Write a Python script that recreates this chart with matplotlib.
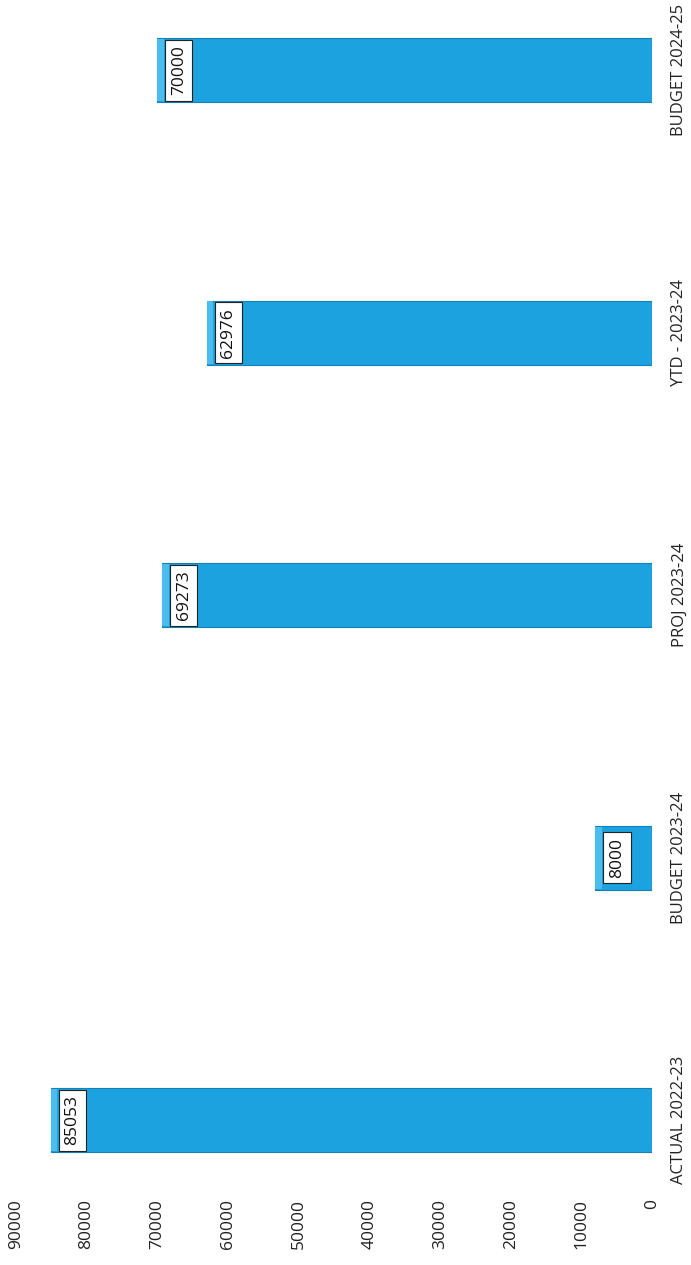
import numpy as np
import matplotlib
matplotlib.use('Agg')
import matplotlib.pyplot as plt

categories = ['ACTUAL 2022-23', 'BUDGET 2023-24', 'PROJ 2023-24', 'YTD - 2023-24', 'BUDGET 2024-25']
values = [85053, 8000, 69273, 62976, 70000]
value_ticks = [0, 10000, 20000, 30000, 40000, 50000, 60000, 70000, 80000, 90000]

bar_color = '#1ca2de'
cap_color = '#4bbcee'
font = ['Open Sans', 'DejaVu Sans']
plt.rcParams['font.family'] = font

fig = plt.figure(figsize=(6.91, 12.65), dpi=100)
ax = fig.add_axes([0.023, 0.059, 0.9206, 0.937])

pos = np.arange(len(categories))
bar_h = 0.245
ax.barh(pos, values, height=bar_h, color=bar_color, edgecolor='#1580b5', linewidth=0.8, zorder=2)

# lighter strip on the value end of each bar
cap = 900
ax.barh(pos, [cap] * len(values), left=[v - cap for v in values], height=bar_h * 0.97,
        color=cap_color, linewidth=0, zorder=3)

for p, v in zip(pos, values):
    ax.annotate(str(v), xy=(v, p), xytext=(15.5, 0), textcoords='offset points',
                rotation=90, ha='center', va='center', fontsize=12.5, color='#111111',
                bbox=dict(boxstyle='square,pad=0.32', fc='white', ec='#222222', lw=0.8),
                zorder=4)

ax.set_xlim(90000, 0)
ax.set_ylim(-0.267, 4.248)

ax.set_xticks(value_ticks)
ax.set_xticklabels([str(t) for t in value_ticks], rotation=90, fontsize=12.5, color='#222222')
ax.tick_params(axis='x', length=0, pad=6)

ax.yaxis.tick_right()
ax.set_yticks(pos)
ax.set_yticklabels(categories, rotation=90, fontsize=12, color='#222222', va='center')
ax.tick_params(axis='y', length=0, pad=14)

for s in ax.spines.values():
    s.set_visible(False)

fig.savefig('out.png', dpi=100)
